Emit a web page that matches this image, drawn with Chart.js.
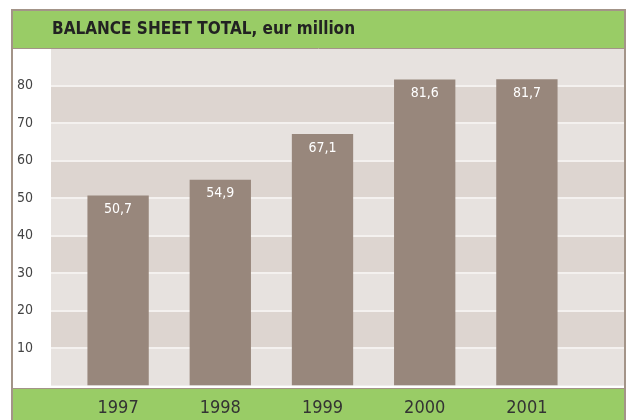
<!DOCTYPE html>
<html>
<head>
<meta charset="utf-8">
<script src="https://cdn.jsdelivr.net/npm/chart.js@4"></script>
<style>
  body { margin: 0; background: #fff; }
  canvas { display: block; }
</style>
</head>
<body>
<canvas id="grafica_balance" width="629" height="420"></canvas>
<script>
const years = ["1997", "1998", "1999", "2000", "2001"];
const totals = [50.7, 54.9, 67.1, 81.6, 81.7];
const yTicks = [10, 20, 30, 40, 50, 60, 70, 80];
const titleText = "BALANCE SHEET TOTAL, eur million";

const green = "#99cc66";
const frameColor = "#a39488";
const barColor = "#98877c";
const bandLight = "#e7e2df";
const bandDark = "#ddd5d0";
const narrow = "'Liberation Sans Narrow', 'DejaVu Sans Condensed', Roboto, sans-serif";

// frame, title bar, bands and grid lines
const marco = {
  id: "marco",
  beforeDraw(chart) {
    const ctx = chart.ctx;
    const y = chart.scales.y;
    const left = 51, right = 624;
    ctx.save();
    ctx.fillStyle = "#fff";
    ctx.fillRect(0, 0, chart.width, chart.height);
    // header + footer
    ctx.fillStyle = green;
    ctx.fillRect(12, 10, 613, 38);
    ctx.fillRect(12, 388, 613, 32);
    // bands
    for (let v = 0; v < 90; v += 10) {
      const top = y.getPixelForValue(v + 10);
      const bot = y.getPixelForValue(v);
      ctx.fillStyle = (v / 10) % 2 === 1 ? bandDark : bandLight;
      ctx.fillRect(left, top, right - left, bot - top);
    }
    ctx.fillStyle = bandLight;
    ctx.fillRect(left, 48, right - left, y.getPixelForValue(90) - 48);
    // grid
    ctx.strokeStyle = "#f4f1ef";
    ctx.lineWidth = 2;
    yTicks.forEach(t => {
      const py = Math.round(y.getPixelForValue(t));
      ctx.beginPath();
      ctx.moveTo(left, py);
      ctx.lineTo(right, py);
      ctx.stroke();
    });
    // borders
    ctx.strokeStyle = frameColor;
    ctx.lineWidth = 2;
    ctx.strokeRect(12, 10, 613, 420);
    ctx.lineWidth = 1;
    ctx.beginPath();
    ctx.moveTo(12, 48.5); ctx.lineTo(625, 48.5);
    ctx.moveTo(12, 388.5); ctx.lineTo(625, 388.5);
    ctx.stroke();
    // title
    ctx.fillStyle = "#222";
    ctx.font = "600 17px " + narrow;
    ctx.textBaseline = "middle";
    ctx.textAlign = "left";
    ctx.fillText(titleText, 52, 30);
    ctx.restore();
  },
  afterDatasetsDraw(chart) {
    const ctx = chart.ctx;
    const meta = chart.getDatasetMeta(0);
    ctx.save();
    ctx.fillStyle = "#fff";
    ctx.font = "500 14px " + narrow;
    ctx.textAlign = "center";
    ctx.textBaseline = "middle";
    meta.data.forEach((bar, i) => {
      ctx.fillText(totals[i].toFixed(1).replace(".", ","), bar.x, bar.y + 14);
    });
    ctx.restore();
  }
};

new Chart("grafica_balance", {
  type: "bar",
  data: {
    labels: years,
    datasets: [{
      data: totals,
      backgroundColor: barColor,
      barPercentage: 0.6,
      categoryPercentage: 1
    }]
  },
  options: {
    responsive: false,
    animation: false,
    layout: { padding: { left: 11, right: 51, top: 48, bottom: 0 } },
    plugins: { legend: { display: false }, tooltip: { enabled: false } },
    scales: {
      x: {
        grid: { display: false },
        border: { display: false },
        ticks: { color: "#333", font: { family: narrow, size: 18 }, padding: 4 },
        afterFit(s) { s.height = 32; }
      },
      y: {
        min: 0,
        max: 90,
        grid: { display: false },
        border: { display: false },
        ticks: {
          stepSize: 10,
          padding: 26,
          color: "#444",
          font: { family: narrow, size: 14 },
          callback: v => yTicks.includes(v) ? String(v) : ""
        },
        afterFit(s) { s.width = 56; }
      }
    }
  },
  plugins: [marco]
});
</script>
</body>
</html>
